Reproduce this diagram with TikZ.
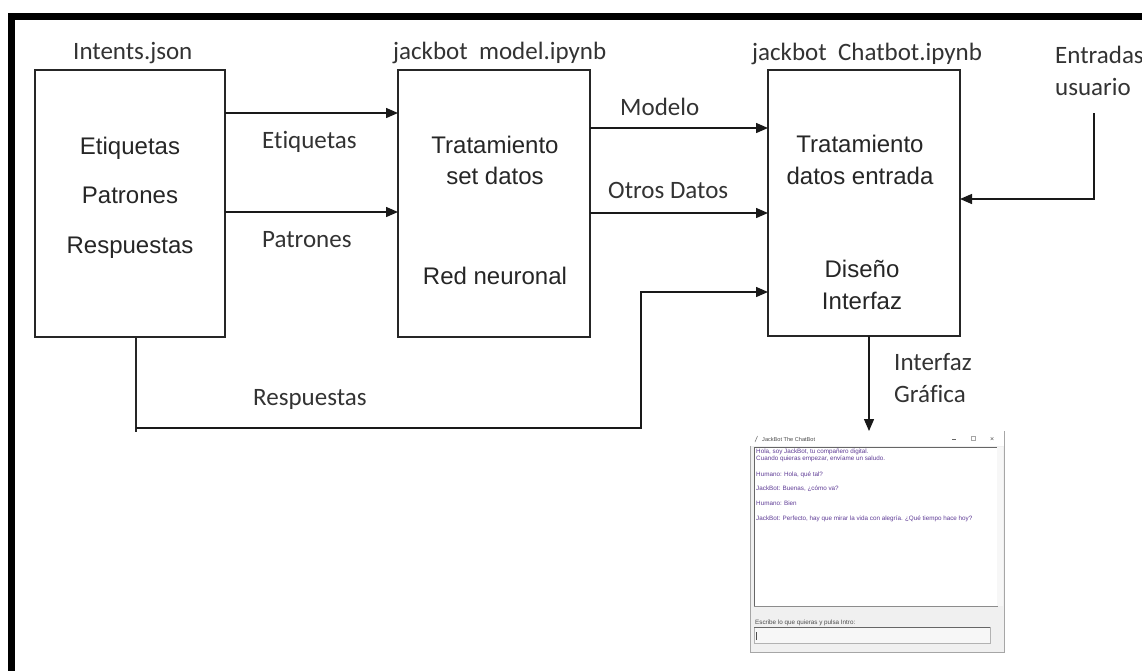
\documentclass[tikz,border=0pt]{standalone}
\usepackage{fontspec}
\setmainfont{Liberation Sans}
\newfontfamily\calfont[RawFeature={-liga,-clig,-dlig,-calt}]{Carlito}
\usetikzlibrary{arrows.meta}
\definecolor{chatpurple}{RGB}{95,60,150}
\begin{document}
\begin{tikzpicture}[x=1pt,y=-1pt,
  box/.style={draw=black!85, line width=1.4pt, inner sep=0pt, outer sep=0pt, anchor=north west},
  arr/.style={draw=black!90, line width=1.4pt, -{Triangle[length=12pt,width=10pt]}},
  wire/.style={draw=black!85, line width=1.4pt},
  inbox/.style={font=\fontsize{24}{28}\selectfont, text=black!85, anchor=base, inner sep=0pt},
  lbl/.style={font=\calfont\fontsize{25}{29}\selectfont, text=black!80, anchor=base west, inner sep=0pt},
  tiny/.style={font=\fontsize{6.3}{7}\selectfont, text=chatpurple, anchor=base west, inner sep=0pt},
]
\useasboundingbox (0,0) rectangle (1142,670);
\fill[white] (0,0) rectangle (1142,670);
% outer frame (only top and left visible)
\draw[line width=7pt, line join=miter] (11.5,690) -- (11.5,16.5) -- (1160,16.5);

% boxes
\node[box, minimum width=190pt, minimum height=267pt] (b1) at (35,70) {};
\node[box, minimum width=192pt, minimum height=267pt] (b2) at (398,70) {};
\node[box, minimum width=192pt, minimum height=266pt] (b3) at (768,70) {};

% box titles
\node[lbl] (t1) at (73,59) {Intents.json};
\node[lbl] (t2) at (393,59) {jackbot\ \ model.ipynb};
\node[lbl] (t3) at (752,60) {jackbot\ \ Chatbot.ipynb};
\node[lbl] (t4) at (1055,63) {Entradas};
\node[lbl] (t5) at (1055,95) {usuario};

% box contents
\node[inbox] (c11) at (130,154) {Etiquetas};
\node[inbox] (c12) at (130,203) {Patrones};
\node[inbox] (c13) at (130,253) {Respuestas};
\node[inbox] (c21) at (495,153) {Tratamiento};
\node[inbox] (c22) at (495,184) {set datos};
\node[inbox] (c23) at (495,284) {Red neuronal};
\node[inbox] (c31) at (860,152) {Tratamiento};
\node[inbox] (c32) at (860,184) {datos entrada};
\node[inbox] (c33) at (862,277) {Diseño};
\node[inbox] (c34) at (862,309) {Interfaz};

% connector labels
\node[lbl] (l1) at (262,148) {Etiquetas};
\node[lbl] (l2) at (262,247) {Patrones};
\node[lbl] (l3) at (620,115) {Modelo};
\node[lbl] (l4) at (608,198) {Otros Datos};
\node[lbl] (l5) at (253,405) {Respuestas};
\node[lbl] (l6) at (894,370) {Interfaz};
\node[lbl] (l7) at (894,402) {Gráfica};

% helper coordinates
\coordinate (y1) at (0,113);
\coordinate (y2) at (0,212);
\coordinate (y3) at (0,128);
\coordinate (y4) at (0,213);
\coordinate (y5) at (0,292);
\coordinate (y6) at (0,199);
\coordinate (x1) at (136,0);
\coordinate (x2) at (869,0);
\coordinate (r1) at (136,432);
\coordinate (r2) at (136,428);
\coordinate (r3) at (641,428);
\coordinate (r4) at (641,292);
\coordinate (u1) at (1094,113);
\coordinate (u2) at (1094,199);

% screenshot window
\node[draw=black!35, fill=black!6, line width=0.8pt, minimum width=254pt, minimum height=221pt,
      anchor=north west, inner sep=0pt, outer sep=0pt] (win) at (750,431) {};
\fill[white] (750.4,431.4) rectangle (1003.6,446);
\draw[black!60, line width=0.5pt] (755,442) -- (757.5,436);
\node[tiny, text=black!70, font=\fontsize{5.6}{6}\selectfont] (wt) at (762,441) {JackBot The ChatBot};
\draw[black!60, line width=0.5pt] (952,439) -- (956,439);
\draw[black!35, line width=0.5pt] (971,436.5) rectangle (975,440.5);
\node[tiny, text=black!70, font=\fontsize{7}{8}\selectfont] (wx) at (990,441.5) {×};
\draw[fill=white, draw=black!45, line width=0.8pt] (754,447) rectangle (997,606);
\draw[black!60, line width=1.2pt] (754.5,447) -- (754.5,606);
\draw[black!60, line width=1.2pt] (754,447.5) -- (997,447.5);
\fill[black!3] (997.4,447) rectangle (1003,606);
\node[tiny] (m1) at (756,453) {Hola, soy JackBot, tu compañero digital.};
\node[tiny] (m2) at (756,460.5) {Cuando quieras empezar, envíame un saludo.};
\node[tiny] (m3) at (756,476) {Humano: Hola, qué tal?};
\node[tiny] (m4) at (756,490) {JackBot: Buenas, ¿cómo va?};
\node[tiny] (m5) at (756,505.5) {Humano: Bien};
\node[tiny] (m6) at (756,520) {JackBot: Perfecto, hay que mirar la vida con alegría. ¿Qué tiempo hace hoy?};
\node[tiny, text=black!70] (m7) at (755,624) {Escribe lo que quieras y pulsa Intro:};
\draw[fill=black!3, draw=black!30, line width=0.6pt] (754,627) rectangle (990,643);
\draw[black!60, line width=1pt] (754,627.5) -- (990,627.5);
\draw[black!70, line width=0.6pt] (756,632) -- (756,640);

% connectors
\draw[arr] (b1.east |- y1) -- (b2.west |- y1);
\draw[arr] (b1.east |- y2) -- (b2.west |- y2);
\draw[arr] (b2.east |- y3) -- (b3.west |- y3);
\draw[arr] (b2.east |- y4) -- (b3.west |- y4);
\draw[wire] (b1.south -| x1) -- (r1);
\draw[arr] (r2) -- (r3) -- (r4) -- (b3.west |- y5);
\draw[arr] (u1) -- (u2) -- (b3.east |- y6);
\draw[arr] (b3.south -| x2) -- (win.north -| x2);
\end{tikzpicture}
\end{document}
